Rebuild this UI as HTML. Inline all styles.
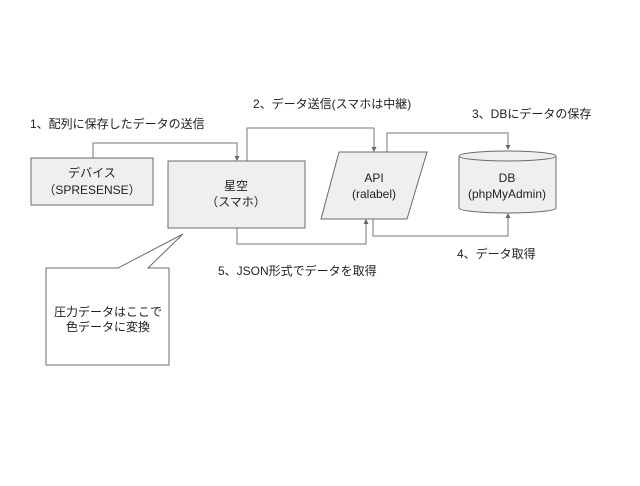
<!DOCTYPE html>
<html><head><meta charset="utf-8"><style>
html,body{margin:0;padding:0;background:#fff}
svg text{font-family:"Liberation Sans","Noto Sans CJK JP",sans-serif;font-size:12px;fill:#222}
</style></head><body>
<svg width="640" height="481" viewBox="0 0 640 481" xmlns="http://www.w3.org/2000/svg">
<g fill="none" stroke="#777" stroke-width="1">
<polyline points="93,158 93,143 237,143 237,160"/>
<polyline points="247,161 247,128 374,128 374,151"/>
<polyline points="387,152 387,133 508,133 508,148"/>
<polyline points="373,219 373,236 508,236 508,214"/>
<polyline points="237,228 237,244 366,244 366,220"/>
</g>
<g fill="#666">
<path d="M234.5,156 L239.5,156 L237,161 Z"/>
<path d="M371.5,147 L376.5,147 L374,152 Z"/>
<path d="M505.5,145 L510.5,145 L508,150 Z"/>
<path d="M505.5,218 L510.5,218 L508,213 Z"/>
<path d="M363.5,224 L368.5,224 L366,219 Z"/>
</g>
<g fill="#efefef" stroke="#6b6b6b" stroke-width="1">
<rect x="31" y="158" width="122" height="47"/>
<rect x="168" y="161" width="137" height="67"/>
<polygon points="339,152 427,152 407,219 321,219"/>
<path d="M459,156 L459,208 A48.5,5 0 0 0 556,208 L556,156 A48.5,5 0 0 0 459,156 Z"/>
<path d="M459,156 A48.5,5 0 0 0 556,156"/>
<path d="M46,268 L118,268 L183,234 L148,268 L169,268 L169,365 L46,365 Z" fill="#fff"/>
</g>
<g text-anchor="middle">
<text x="92" y="177">デバイス</text>
<text x="92" y="194">（SPRESENSE）</text>
<text x="236" y="190">星空</text>
<text x="236" y="206">（スマホ）</text>
<text x="374" y="182">API</text>
<text x="374" y="198">(ralabel)</text>
<text x="507" y="182">DB</text>
<text x="507" y="198">(phpMyAdmin)</text>
<text x="108" y="316">圧力データはここで</text>
<text x="108" y="331">色データに変換</text>
</g>
<text x="30" y="128">1、配列に保存したデータの送信</text>
<text x="253" y="108">2、データ送信(スマホは中継)</text>
<text x="472" y="118">3、DBにデータの保存</text>
<text x="457" y="258">4、データ取得</text>
<text x="218" y="275">5、JSON形式でデータを取得</text>
</svg>
</body></html>
